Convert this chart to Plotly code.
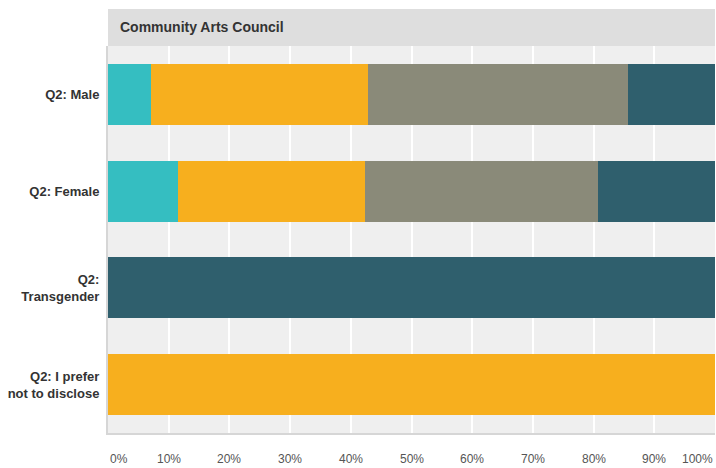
import plotly.graph_objects as go

categories = ["Q2: Male", "Q2: Female", "Q2:<br>Transgender", "Q2: I prefer<br>not to disclose"]
series_names = ["A", "B", "C", "D"]
series_values = {
    "A": [7.1, 11.5, 0, 0],
    "B": [35.7, 30.8, 0, 100],
    "C": [42.9, 38.5, 0, 0],
    "D": [14.3, 19.2, 100, 0],
}
colors = {"A": "#35BEC1", "B": "#F7AF1E", "C": "#8A8A79", "D": "#2F5F6D"}
tick_vals = [0, 10, 20, 30, 40, 50, 60, 70, 80, 90, 100]
tick_text = [f"{v}%" for v in tick_vals]
title = "Community Arts Council"

FONT = "Liberation Sans, Arial, Helvetica, sans-serif"

fig = go.Figure()
for s in series_names:
    fig.add_trace(go.Bar(
        y=categories, x=series_values[s], orientation="h",
        marker=dict(color=colors[s], line=dict(width=0)),
        name=s, showlegend=False, width=0.63,
    ))

annotations = []
for v, t in zip(tick_vals, tick_text):
    anchor = "center"
    if v == 0:
        anchor = "left"
    elif v == 100:
        anchor = "right"
    annotations.append(dict(
        x=v, xref="x", y=0, yref="paper", yanchor="top", xanchor=anchor,
        yshift=-17, text=t, showarrow=False,
        font=dict(family=FONT, size=12, color="#555555"),
    ))
annotations.append(dict(
    x=0, xref="paper", y=1, yref="paper", xanchor="left", yanchor="middle",
    xshift=10, yshift=19, text=f"<b>{title}</b>", showarrow=False,
    font=dict(family=FONT, size=14, color="#333333"),
))

fig.update_layout(
    width=716, height=468,
    margin=dict(l=108, r=1, t=46, b=35),
    barmode="stack",
    plot_bgcolor="#EFEFEF", paper_bgcolor="white",
    xaxis=dict(range=[0, 100], tickvals=tick_vals[1:-1], showticklabels=False,
               showgrid=True, gridcolor="white", gridwidth=2, zeroline=False,
               showline=True, linecolor="#D6D6D6", linewidth=2, fixedrange=True),
    yaxis=dict(categoryorder="array", categoryarray=categories, autorange="reversed",
               showgrid=False, zeroline=False, showline=True, linecolor="#D6D6D6",
               linewidth=2, ticks="", ticklen=0,
               tickfont=dict(family=FONT, size=13, color="#333333", weight="bold"),
               ticklabelstandoff=4),
    shapes=[dict(type="rect", xref="paper", yref="paper", x0=0, x1=1,
                 y0=1, y1=1 + 37/387, fillcolor="#DEDEDE", line=dict(width=0), layer="below")],
    annotations=annotations,
    bargap=0.37,
)
fig.write_html("out.html", config={"displayModeBar": False},
               post_script="document.body.style.margin='0';document.body.style.overflow='hidden';")
